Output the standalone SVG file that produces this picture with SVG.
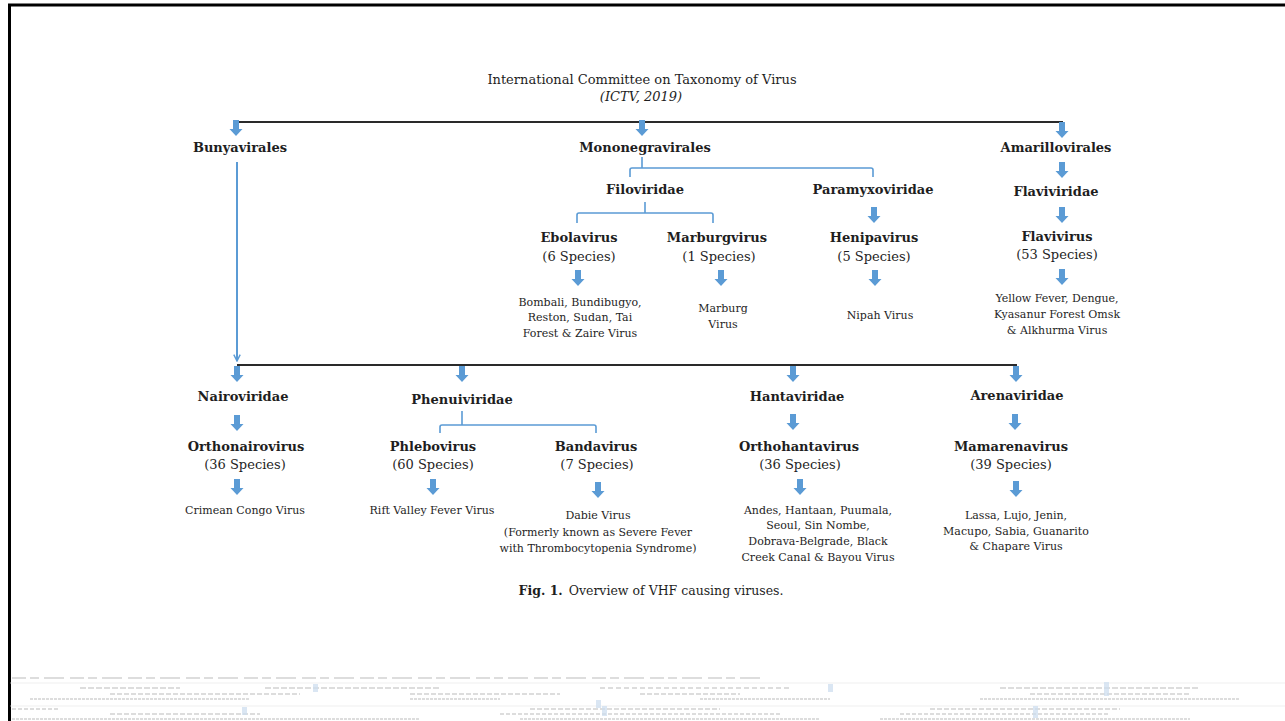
<svg xmlns="http://www.w3.org/2000/svg" xmlns:xlink="http://www.w3.org/1999/xlink" width="1285" height="721" viewBox="0 0 1285 721">
<defs>
<style>
text{font-family:"DejaVu Serif","Liberation Serif",serif;fill:#1e1e1e;text-anchor:middle}
.t{font-size:13px}
.b{font-size:13px;font-weight:bold}
.n{font-size:13px}
.s{font-size:11px}
.c{font-size:12.5px}
.i{font-style:italic}
.blk{stroke:#2a2a2a;stroke-width:2;fill:none}
.br{stroke:#5b9bd5;stroke-width:1.6;fill:none}
.blue{fill:#5b9bd5}
.ghost{stroke:#c8c8c8;stroke-width:2;fill:none}
.ghostb{fill:#a9c6e4;opacity:0.7}
</style>
<path id="arr" class="blue" d="M-3,0 H3 V9 H6.5 L0,16 L-6.5,9 H-3 Z"/>
<marker id="mk" viewBox="0 0 10 10" refX="9" refY="5" markerWidth="8" markerHeight="8" orient="auto" markerUnits="userSpaceOnUse">
<path d="M1,1 L9,5 L1,9" fill="none" stroke="#5b9bd5" stroke-width="1.8"/>
</marker>
</defs>
<rect width="1285" height="721" fill="#fff"/>
<g id="frame">
<line x1="8" y1="5" x2="1285" y2="5" stroke="#000" stroke-width="3"/>
<line x1="9.5" y1="4" x2="9.5" y2="721" stroke="#000" stroke-width="3"/>
</g>
<g id="connectors">
<line class="blk" x1="236" y1="122" x2="1063" y2="122"/>
<line class="blk" x1="237" y1="365" x2="1017" y2="365"/>
<line x1="237" y1="162" x2="237" y2="361" stroke="#5b9bd5" stroke-width="2" marker-end="url(#mk)"/>
<path class="br" d="M642,157 V168 M630,177 V170 Q630,168 632,168 H871 Q873,168 873,170 V177"/>
<path class="br" d="M645,202 V213 M577,223 V215 Q577,213 579,213 H711 Q713,213 713,215 V223"/>
<path class="br" d="M462,411 V425 M440,433 V427 Q440,425 442,425 H594 Q596,425 596,427 V433"/>
<use href="#arr" x="236" y="120"/>
<use href="#arr" x="642" y="120"/>
<use href="#arr" x="1062" y="122"/>
<use href="#arr" x="1062" y="162"/>
<use href="#arr" x="1062" y="207"/>
<use href="#arr" x="1062" y="269"/>
<use href="#arr" x="874" y="207"/>
<use href="#arr" x="578" y="270"/>
<use href="#arr" x="721" y="270"/>
<use href="#arr" x="875" y="270"/>
<use href="#arr" x="237" y="366"/>
<use href="#arr" x="462" y="366"/>
<use href="#arr" x="793" y="366"/>
<use href="#arr" x="1016" y="366"/>
<use href="#arr" x="237" y="415"/>
<use href="#arr" x="793" y="414"/>
<use href="#arr" x="1015" y="414"/>
<use href="#arr" x="237" y="479"/>
<use href="#arr" x="433" y="479"/>
<use href="#arr" x="598" y="482"/>
<use href="#arr" x="800" y="479"/>
<use href="#arr" x="1016" y="481"/>
</g>
<g id="title"><text class="t" x="642" y="84">International Committee on Taxonomy of Virus</text><text class="t i" x="641" y="101">(ICTV, 2019)</text></g>
<g id="bunyavirales"><text class="b" x="240" y="152">Bunyavirales</text></g>
<g id="mononegravirales"><text class="b" x="645" y="152">Mononegravirales</text></g>
<g id="amarillovirales"><text class="b" x="1056" y="152">Amarillovirales</text></g>
<g id="filoviridae"><text class="b" x="645" y="194">Filoviridae</text></g>
<g id="paramyxoviridae"><text class="b" x="873" y="194">Paramyxoviridae</text></g>
<g id="flaviviridae"><text class="b" x="1056" y="196">Flaviviridae</text></g>
<g id="ebolavirus"><text class="b" x="579" y="242">Ebolavirus</text><text class="n" x="579" y="261">(6 Species)</text></g>
<g id="marburgvirus"><text class="b" x="717" y="242">Marburgvirus</text><text class="n" x="719" y="261">(1 Species)</text></g>
<g id="henipavirus"><text class="b" x="874" y="242">Henipavirus</text><text class="n" x="874" y="261">(5 Species)</text></g>
<g id="flavivirus"><text class="b" x="1057" y="241">Flavivirus</text><text class="n" x="1057" y="259">(53 Species)</text></g>
<g id="ebola-species"><text class="s" x="580" y="306">Bombali, Bundibugyo,</text><text class="s" x="580" y="321">Reston, Sudan, Tai</text><text class="s" x="580" y="337">Forest &amp; Zaire Virus</text></g>
<g id="marburg-species"><text class="s" x="723" y="312">Marburg</text><text class="s" x="723" y="328">Virus</text></g>
<g id="nipah"><text class="s" x="880" y="319">Nipah Virus</text></g>
<g id="flavi-species"><text class="s" x="1057" y="302">Yellow Fever, Dengue,</text><text class="s" x="1057" y="318">Kyasanur Forest Omsk</text><text class="s" x="1057" y="334">&amp; Alkhurma Virus</text></g>
<g id="nairoviridae"><text class="b" x="243" y="401">Nairoviridae</text></g>
<g id="phenuiviridae"><text class="b" x="462" y="404">Phenuiviridae</text></g>
<g id="hantaviridae"><text class="b" x="797" y="401">Hantaviridae</text></g>
<g id="arenaviridae"><text class="b" x="1017" y="400">Arenaviridae</text></g>
<g id="orthonairovirus"><text class="b" x="246" y="451">Orthonairovirus</text><text class="n" x="245" y="469">(36 Species)</text></g>
<g id="phlebovirus"><text class="b" x="433" y="451">Phlebovirus</text><text class="n" x="433" y="469">(60 Species)</text></g>
<g id="bandavirus"><text class="b" x="596" y="451">Bandavirus</text><text class="n" x="597" y="469">(7 Species)</text></g>
<g id="orthohantavirus"><text class="b" x="799" y="451">Orthohantavirus</text><text class="n" x="800" y="469">(36 Species)</text></g>
<g id="mamarenavirus"><text class="b" x="1011" y="451">Mamarenavirus</text><text class="n" x="1011" y="469">(39 Species)</text></g>
<g id="crimean"><text class="s" x="245" y="514">Crimean Congo Virus</text></g>
<g id="rift"><text class="s" x="432" y="514">Rift Valley Fever Virus</text></g>
<g id="dabie"><text class="s" x="598" y="519">Dabie Virus</text><text class="s" x="598" y="536">(Formerly known as Severe Fever</text><text class="s" x="598" y="552">with Thrombocytopenia Syndrome)</text></g>
<g id="hanta-species"><text class="s" x="818" y="514">Andes, Hantaan, Puumala,</text><text class="s" x="818" y="529">Seoul, Sin Nombe,</text><text class="s" x="818" y="545">Dobrava-Belgrade, Black</text><text class="s" x="818" y="561">Creek Canal &amp; Bayou Virus</text></g>
<g id="arena-species"><text class="s" x="1016" y="519">Lassa, Lujo, Jenin,</text><text class="s" x="1016" y="535">Macupo, Sabia, Guanarito</text><text class="s" x="1016" y="550">&amp; Chapare Virus</text></g>
<g id="caption"><text class="c" x="651" y="595"><tspan font-weight="bold">Fig. 1.</tspan><tspan dx="6">Overview of VHF causing viruses.</tspan></text></g>
<g id="blurred-strip" opacity="0.6">
<line class="ghost" x1="12" y1="678" x2="760" y2="678" stroke-dasharray="14 4 9 5 20 6" stroke-width="1.5"/>
<line x1="10" y1="683" x2="1285" y2="683" stroke="#e6e6e6" stroke-width="1"/>
<line class="ghost" x1="80" y1="688" x2="180" y2="688" stroke-dasharray="6 2"/>
<line class="ghost" x1="265" y1="688" x2="440" y2="688" stroke-dasharray="6 2"/>
<line class="ghost" x1="600" y1="688" x2="790" y2="688" stroke-dasharray="5 3"/>
<line class="ghost" x1="1000" y1="688" x2="1200" y2="688" stroke-dasharray="6 2"/>
<line class="ghost" x1="110" y1="694" x2="300" y2="694" stroke-dasharray="5 2"/>
<line class="ghost" x1="410" y1="694" x2="560" y2="694" stroke-dasharray="5 2"/>
<line class="ghost" x1="640" y1="694" x2="740" y2="694" stroke-dasharray="5 2"/>
<line class="ghost" x1="1030" y1="694" x2="1190" y2="694" stroke-dasharray="5 2"/>
<line class="ghost" x1="30" y1="699" x2="250" y2="699" stroke-dasharray="3 1"/>
<line class="ghost" x1="410" y1="699" x2="500" y2="699" stroke-dasharray="3 1"/>
<line class="ghost" x1="700" y1="699" x2="830" y2="699" stroke-dasharray="3 1"/>
<line class="ghost" x1="980" y1="699" x2="1240" y2="699" stroke-dasharray="3 1"/>
<line x1="10" y1="706" x2="1285" y2="706" stroke="#e6e6e6" stroke-width="1"/>
<line class="ghost" x1="12" y1="709" x2="60" y2="709" stroke-dasharray="4 2"/>
<line class="ghost" x1="530" y1="709" x2="720" y2="709" stroke-dasharray="5 2"/>
<line class="ghost" x1="930" y1="709" x2="1120" y2="709" stroke-dasharray="5 2"/>
<line class="ghost" x1="110" y1="714" x2="260" y2="714" stroke-dasharray="5 2"/>
<line class="ghost" x1="500" y1="714" x2="780" y2="714" stroke-dasharray="4 2"/>
<line class="ghost" x1="900" y1="714" x2="1110" y2="714" stroke-dasharray="4 2"/>
<line class="ghost" x1="12" y1="719" x2="420" y2="719" stroke-dasharray="3 1"/>
<line class="ghost" x1="520" y1="719" x2="820" y2="719" stroke-dasharray="3 1"/>
<line class="ghost" x1="880" y1="719" x2="1190" y2="719" stroke-dasharray="3 1"/>
<rect class="ghostb" x="313" y="684" width="5" height="8"/>
<rect class="ghostb" x="596" y="700" width="5" height="8"/>
<rect class="ghostb" x="828" y="684" width="5" height="8"/>
<rect class="ghostb" x="1104" y="682" width="5" height="14"/>
<rect class="ghostb" x="242" y="707" width="5" height="8"/>
<rect class="ghostb" x="602" y="706" width="5" height="10"/>
<rect class="ghostb" x="1033" y="706" width="5" height="12"/>
</g>
</svg>
